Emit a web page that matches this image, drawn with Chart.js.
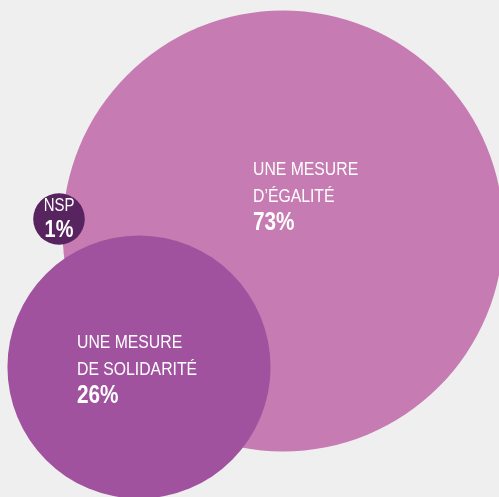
<!DOCTYPE html>
<html>
<head>
<meta charset="utf-8">
<script src="https://cdn.jsdelivr.net/npm/chart.js@4/dist/chart.umd.min.js"></script>
<style>
  html, body { margin: 0; padding: 0; background: #efefef; }
  #wrap { width: 499px; height: 497px; }
</style>
</head>
<body>
<div id="wrap"><canvas id="c" width="499" height="497"></canvas></div>
<script>
// Data
const categories = ["UNE MESURE\nD\u2019ÉGALITÉ", "NSP", "UNE MESURE\nDE SOLIDARITÉ"];
const percentages = [73, 1, 26];
const bubbleX = [283, 59, 139];   // layout position in chart units
const bubbleY = [231, 219, 367];
const colors = ["#c67bb2", "#58245f", "#a0529f"];

const RADIUS_K = 25.8; // radius = K * sqrt(percentage)

const data = {
  datasets: [{
    data: percentages.map((v, i) => ({ x: bubbleX[i], y: bubbleY[i], r: RADIUS_K * Math.sqrt(v) })),
    backgroundColor: colors,
    borderWidth: 0,
    hoverBorderWidth: 0,
    clip: false
  }]
};

const FONT = "'Liberation Sans', Arial, sans-serif";
const SQUEEZE = 0.83; // emulate a condensed typeface

function narrowText(ctx, text, x, y, align) {
  ctx.save();
  ctx.translate(x, y);
  ctx.scale(SQUEEZE, 1);
  ctx.textAlign = align;
  ctx.fillText(text, 0, 0);
  ctx.restore();
}

const labelPlugin = {
  id: 'bubbleLabels',
  afterDatasetsDraw(chart) {
    const ctx = chart.ctx;
    const meta = chart.getDatasetMeta(0);
    ctx.save();
    ctx.fillStyle = '#ffffff';
    ctx.textBaseline = 'alphabetic';
    meta.data.forEach((el, i) => {
      const lines = categories[i].split('\n');
      const pct = percentages[i] + '%';
      if (i === 1) {
        ctx.font = "18px " + FONT;
        narrowText(ctx, lines[0], el.x, el.y - 8, 'center');
        ctx.font = "bold 24px " + FONT;
        narrowText(ctx, pct, el.x, el.y + 18, 'center');
      } else {
        const off = i === 0 ? { dx: -30, y0: -56 } : { dx: -62, y0: -19 };
        ctx.font = "19px " + FONT;
        lines.forEach((l, k) => narrowText(ctx, l, el.x + off.dx, el.y + off.y0 + 27 * k, 'left'));
        ctx.font = "bold 25px " + FONT;
        narrowText(ctx, pct, el.x + off.dx, el.y + off.y0 + 27 * lines.length + 1, 'left');
      }
    });
    ctx.restore();
  }
};

new Chart(document.getElementById('c'), {
  type: 'bubble',
  data,
  options: {
    responsive: false,
    animation: false,
    events: [],
    layout: { padding: 0, autoPadding: false },
    plugins: { legend: { display: false }, tooltip: { enabled: false } },
    scales: {
      x: { type: 'linear', min: 0, max: 499, display: false },
      y: { type: 'linear', min: 0, max: 497, reverse: true, display: false }
    }
  },
  plugins: [labelPlugin]
});
</script>
</body>
</html>
